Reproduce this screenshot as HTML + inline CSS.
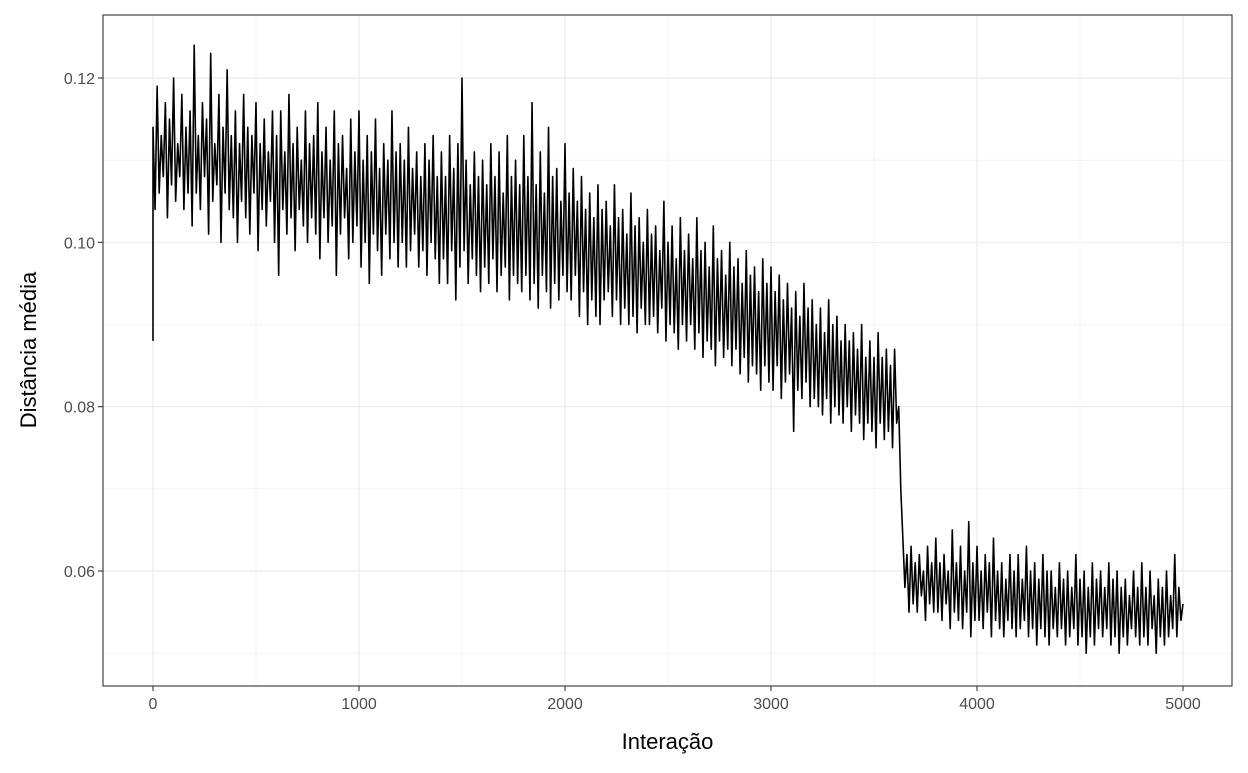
<!DOCTYPE html>
<html><head><meta charset="utf-8"><style>
body{margin:0;background:#fff;font-family:"Liberation Sans",sans-serif}
</style></head><body>
<svg id="chart" width="1248" height="768" xmlns="http://www.w3.org/2000/svg"></svg>
<script>
// Series sampled every 10 iterations: local peaks at i*20, local troughs at i*20+10
const xStep = 20;
const startValue = 0.088;
const peakValues = [
0.114,0.119,0.113,0.117,0.115,0.120,0.112,0.118,0.114,0.116,
0.124,0.113,0.117,0.115,0.123,0.112,0.118,0.114,0.121,0.113,
0.116,0.112,0.118,0.114,0.113,0.117,0.112,0.115,0.111,0.116,
0.113,0.116,0.111,0.118,0.112,0.114,0.110,0.116,0.112,0.113,
0.117,0.111,0.114,0.110,0.116,0.112,0.113,0.109,0.115,0.111,
0.116,0.110,0.113,0.111,0.115,0.109,0.112,0.110,0.116,0.111,
0.112,0.110,0.114,0.109,0.111,0.108,0.112,0.110,0.113,0.108,
0.111,0.108,0.113,0.109,0.112,0.120,0.110,0.107,0.111,0.108,
0.110,0.107,0.112,0.108,0.111,0.106,0.113,0.108,0.110,0.107,
0.113,0.108,0.117,0.107,0.111,0.106,0.114,0.108,0.109,0.105,
0.112,0.106,0.109,0.105,0.108,0.104,0.106,0.103,0.107,0.104,
0.105,0.102,0.107,0.103,0.104,0.101,0.106,0.102,0.103,0.100,
0.104,0.101,0.102,0.099,0.105,0.100,0.102,0.098,0.103,0.099,
0.101,0.098,0.103,0.099,0.100,0.097,0.102,0.098,0.099,0.096,
0.100,0.097,0.098,0.095,0.099,0.096,0.097,0.094,0.098,0.095,
0.097,0.094,0.096,0.093,0.095,0.092,0.094,0.091,0.095,0.092,
0.093,0.090,0.092,0.089,0.093,0.090,0.091,0.088,0.090,0.088,
0.089,0.087,0.090,0.086,0.088,0.086,0.089,0.086,0.087,0.085,
0.087,0.080,0.064,0.062,0.063,0.061,0.062,0.060,0.063,0.061,
0.064,0.061,0.062,0.060,0.065,0.061,0.063,0.060,0.066,0.061,
0.063,0.060,0.062,0.061,0.064,0.060,0.061,0.059,0.062,0.060,
0.062,0.059,0.063,0.060,0.061,0.059,0.062,0.060,0.060,0.058,
0.061,0.059,0.060,0.058,0.062,0.059,0.060,0.058,0.061,0.059,
0.060,0.058,0.061,0.059,0.060,0.058,0.059,0.057,0.060,0.058,
0.061,0.058,0.060,0.057,0.059,0.058,0.060,0.057,0.062,0.058,
0.056];
const troughValues = [
0.104,0.106,0.108,0.103,0.107,0.105,0.108,0.104,0.106,0.102,
0.106,0.104,0.108,0.101,0.105,0.107,0.100,0.106,0.104,0.103,
0.100,0.105,0.103,0.101,0.106,0.099,0.104,0.102,0.105,0.100,
0.096,0.104,0.101,0.103,0.099,0.104,0.102,0.100,0.103,0.101,
0.098,0.103,0.100,0.102,0.096,0.101,0.103,0.098,0.100,0.102,
0.097,0.100,0.095,0.101,0.099,0.096,0.101,0.098,0.100,0.097,
0.100,0.097,0.099,0.101,0.097,0.099,0.096,0.100,0.098,0.095,
0.098,0.095,0.099,0.093,0.097,0.099,0.095,0.098,0.096,0.094,
0.097,0.095,0.098,0.094,0.096,0.097,0.093,0.096,0.095,0.094,
0.096,0.093,0.095,0.092,0.096,0.094,0.092,0.095,0.093,0.096,
0.094,0.093,0.096,0.091,0.094,0.090,0.093,0.091,0.090,0.093,
0.094,0.091,0.093,0.090,0.092,0.090,0.091,0.089,0.092,0.090,
0.090,0.091,0.089,0.092,0.088,0.090,0.089,0.087,0.090,0.088,
0.090,0.087,0.089,0.086,0.088,0.087,0.085,0.088,0.086,0.087,
0.085,0.087,0.084,0.086,0.083,0.085,0.084,0.082,0.085,0.083,
0.082,0.085,0.081,0.083,0.084,0.077,0.082,0.081,0.083,0.080,
0.081,0.080,0.079,0.081,0.078,0.080,0.079,0.078,0.080,0.077,
0.079,0.078,0.076,0.078,0.077,0.075,0.078,0.076,0.077,0.075,
0.078,0.070,0.058,0.055,0.056,0.055,0.057,0.054,0.056,0.055,
0.055,0.054,0.056,0.053,0.055,0.054,0.053,0.055,0.052,0.054,
0.054,0.053,0.055,0.052,0.054,0.053,0.052,0.054,0.053,0.052,
0.053,0.054,0.052,0.053,0.051,0.053,0.052,0.051,0.053,0.052,
0.053,0.051,0.052,0.053,0.051,0.052,0.050,0.052,0.051,0.053,
0.052,0.053,0.051,0.052,0.050,0.052,0.051,0.053,0.052,0.051,
0.052,0.051,0.053,0.050,0.052,0.051,0.052,0.053,0.052,0.054];
const xTicks = [0,1000,2000,3000,4000,5000];
const xMinor = [500,1500,2500,3500,4500];
const yTicks = [0.06,0.08,0.10,0.12];
const yTickLabels = ["0.06","0.08","0.10","0.12"];
const yMinor = [0.05,0.07,0.09,0.11];

const NS="http://www.w3.org/2000/svg";
const svg=document.getElementById('chart');
const P={l:103,t:15,r:1232,b:686};
const xs=v=>153+(v-0)*(1183-153)/5000;
const ys=v=>571-(v-0.06)*(571-78)/0.06;
function mk(tag,attrs,parent){const e=document.createElementNS(NS,tag);for(const k in attrs)e.setAttribute(k,attrs[k]);(parent||svg).appendChild(e);return e;}
const grid=mk('g',{});


xMinor.forEach(v=>mk('line',{x1:xs(v),x2:xs(v),y1:P.t,y2:P.b,stroke:'#f2f2f2','stroke-width':0.8},grid));
yMinor.forEach(v=>mk('line',{x1:P.l,x2:P.r,y1:ys(v),y2:ys(v),stroke:'#f2f2f2','stroke-width':0.8},grid));
xTicks.forEach(v=>mk('line',{x1:xs(v),x2:xs(v),y1:P.t,y2:P.b,stroke:'#ebebeb','stroke-width':1.2},grid));
yTicks.forEach(v=>mk('line',{x1:P.l,x2:P.r,y1:ys(v),y2:ys(v),stroke:'#ebebeb','stroke-width':1.2},grid));
const pts=[[0,startValue]];
peakValues.forEach((v,i)=>{
 pts.push([i*xStep,v]);
 if(i<troughValues.length) pts.push([i*xStep+xStep/2,troughValues[i]]);
});
let d='';
pts.forEach((p,i)=>{d+=(i?'L':'M')+xs(p[0]).toFixed(2)+','+ys(p[1]).toFixed(2);});
const line=mk('path',{d:d,fill:'none',stroke:'#000','stroke-width':1.6,'stroke-linejoin':'round'});


const frame=mk('rect',{x:P.l,y:P.t,width:P.r-P.l,height:P.b-P.t,fill:'none',stroke:'#333','stroke-width':1.1});


xTicks.forEach(v=>{
 mk('line',{x1:xs(v),x2:xs(v),y1:P.b,y2:P.b+5,stroke:'#333','stroke-width':1.1});
 const t=mk('text',{x:xs(v),y:P.b+23,'text-anchor':'middle','font-size':16,fill:'#4d4d4d'});
 t.textContent=v;
 
 
});
yTicks.forEach((v,i)=>{
 mk('line',{x1:P.l-5,x2:P.l,y1:ys(v),y2:ys(v),stroke:'#333','stroke-width':1.1});
 const t=mk('text',{x:P.l-8,y:ys(v)+6,'text-anchor':'end','font-size':16,fill:'#4d4d4d'});
 t.textContent=yTickLabels[i];
 
 
});
const xt=mk('text',{x:(P.l+P.r)/2,y:749,'text-anchor':'middle','font-size':22,fill:'#000'});
xt.textContent='Interação';


const yt=mk('text',{x:0,y:0,transform:'translate(36,350) rotate(-90)','text-anchor':'middle','font-size':22,fill:'#000'});
yt.textContent='Distância média';


</script>
</body></html>
